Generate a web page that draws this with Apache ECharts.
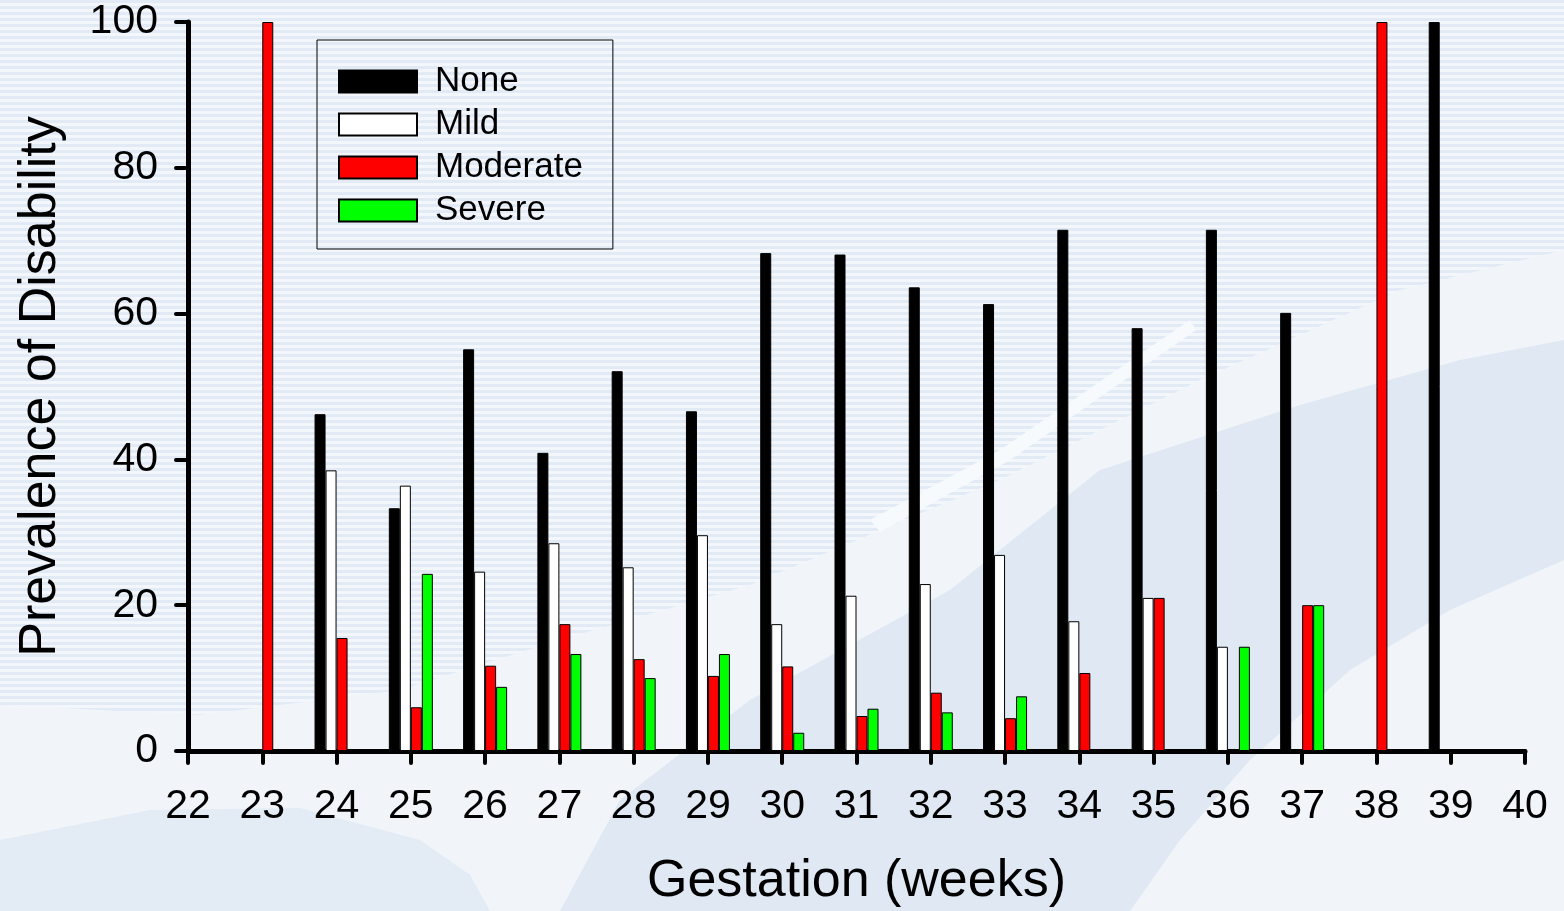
<!DOCTYPE html>
<html>
<head>
<meta charset="utf-8">
<script src="https://cdn.jsdelivr.net/npm/echarts@6/dist/echarts.min.js"></script>
<style>
html,body{margin:0;padding:0;}
#chart{width:1564px;height:911px;
background: repeating-linear-gradient(to bottom, #e2ebf5 0px, #e2ebf5 3px, #f3f7fb 3px, #f3f7fb 6px);}
</style>
</head>
<body>
<div id="chart"></div>
<script>
const weeks = ['22','23','24','25','26','27','28','29','30','31','32','33','34','35','36','37','38','39','40'];
const noneVals     = ['-','-',46.2,33.3,55.1,40.9,52.1,46.6,68.3,68.1,63.6,61.3,71.5,58.0,71.5,60.1,'-',100,'-'];
const mildVals     = ['-','-',38.5,36.4,24.6,28.5,25.2,29.6,17.4,21.3,22.9,26.9,17.8,21.0,14.3,'-','-','-','-'];
const moderateVals = ['-',100,15.5,6.0,11.7,17.4,12.6,10.3,11.6,4.8,8.0,4.5,10.7,21.0,'-',20.0,100,'-','-'];
const severeVals   = ['-','-','-',24.3,8.8,13.3,10.0,13.3,2.5,5.8,5.3,7.5,'-','-',14.3,20.0,'-','-','-'];
const yTicks = [0,20,40,60,80,100];

const font = "'Liberation Sans', Arial, sans-serif";
const chart = echarts.init(document.getElementById('chart'), null, {renderer:'canvas'});

function bar(name, data, color){
  return {
    name, type:'bar', data, barWidth:11, barGap:'0%',
    itemStyle:{color, borderColor:'#000', borderWidth:1},
    emphasis:{disabled:true}
  };
}

chart.setOption({
  backgroundColor:'transparent',
  animation:false,
  textStyle:{fontFamily:font},
  graphic:[
    {type:'polygon', silent:true, z:-10,
      shape:{points:[[0,705],[200,715],[400,690],[560,640],[750,585],[1000,480],[1200,380],[1400,290],[1564,250],[1564,911],[0,911]]},
      style:{fill:'#f1f5fa'}},
    {type:'polygon', silent:true, z:-9,
      shape:{points:[[560,911],[620,800],[750,700],[950,590],[1100,470],[1300,405],[1460,360],[1564,340],[1564,560],[1450,610],[1350,670],[1250,760],[1180,840],[1130,911]]},
      style:{fill:'#dfe8f3'}},
    {type:'polygon', silent:true, z:-9,
      shape:{points:[[0,840],[150,810],[300,808],[420,840],[470,875],[490,911],[0,911]]},
      style:{fill:'#e3ebf5'}},
    {type:'polygon', silent:true, z:-8,
      shape:{points:[[870,520],[1000,450],[1190,320],[1196,330],[1010,460],[880,532]]},
      style:{fill:'#f7fafd'}}
  ],
  grid:{left:188, right:39, top:22, bottom:160, containLabel:false, outerBoundsMode:'none'},
  legend:{
    left:317, top:40, orient:'vertical',
    itemWidth:78, itemHeight:22, itemGap:8,
    padding:[24,30,21,21],
    borderColor:'#000', borderWidth:1,
    icon:'rect', selectedMode:false,
    textStyle:{fontSize:35, color:'#000', fontFamily:font, padding:[0,0,0,13]},
    data:['None','Mild','Moderate','Severe']
  },
  xAxis:{
    type:'category', data:weeks, boundaryGap:false,
    name:'Gestation (weeks)', nameLocation:'middle', nameGap:105,
    nameTextStyle:{fontSize:52, color:'#000', fontFamily:font},
    axisLine:{lineStyle:{color:'#000', width:5}},
    axisTick:{show:true, length:12, interval:0, lineStyle:{color:'#000', width:4, cap:'round'}},
    axisLabel:{interval:0, fontSize:41, color:'#000', margin:35, fontFamily:font},
    splitLine:{show:false}
  },
  yAxis:{
    type:'value', min:0, max:100, interval:20,
    name:'Prevalence of Disability', nameLocation:'middle', nameGap:121,
    nameTextStyle:{fontSize:52, color:'#000', fontFamily:font},
    axisLine:{show:true, lineStyle:{color:'#000', width:5}},
    axisTick:{show:true, length:12, lineStyle:{color:'#000', width:4, cap:'round'}},
    axisLabel:{fontSize:41, color:'#000', margin:30, fontFamily:font,
      formatter:v=>yTicks.includes(v)?String(v):''},
    splitLine:{show:false}
  },
  series:[
    bar('None', noneVals, '#000000'),
    bar('Mild', mildVals, '#ffffff'),
    bar('Moderate', moderateVals, '#ff0000'),
    bar('Severe', severeVals, '#00ff00')
  ]
});
</script>
</body>
</html>
